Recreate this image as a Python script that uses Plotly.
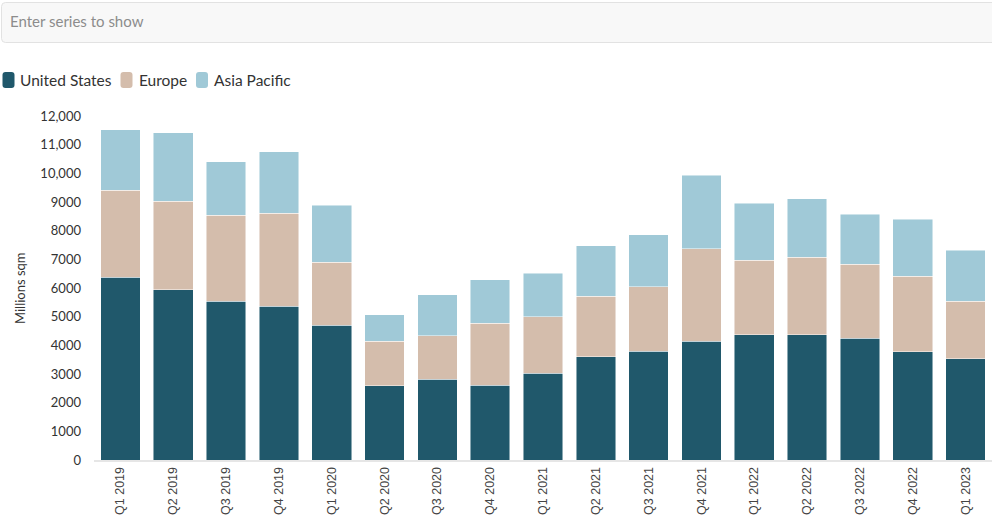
import plotly.graph_objects as go

categories = ["Q1 2019", "Q2 2019", "Q3 2019", "Q4 2019", "Q1 2020", "Q2 2020", "Q3 2020",
              "Q4 2020", "Q1 2021", "Q2 2021", "Q3 2021", "Q4 2021", "Q1 2022", "Q2 2022",
              "Q3 2022", "Q4 2022", "Q1 2023"]
united_states = [6380, 5940, 5540, 5370, 4700, 2590, 2820, 2610, 3030, 3600, 3800, 4150, 4370, 4370, 4240, 3780, 3540]
europe = [3030, 3090, 2990, 3230, 2190, 1550, 1510, 2160, 1970, 2110, 2245, 3220, 2600, 2700, 2580, 2630, 2000]
asia_pacific = [2115, 2390, 1880, 2160, 1990, 930, 1440, 1520, 1520, 1760, 1810, 2560, 1980, 2040, 1760, 1990, 1780]
series_names = ["United States", "Europe", "Asia Pacific"]
series_values = [united_states, europe, asia_pacific]
colors = ["#20586b", "#d4bdac", "#a0c9d7"]

tick_vals = [0, 1000, 2000, 3000, 4000, 5000, 6000, 7000, 8000, 9000, 10000, 11000, 12000]
tick_text = ["0", "1000", "2000", "3000", "4000", "5000", "6000", "7000", "8000", "9000",
             "10,000", "11,000", "12,000"]
y_title = "Millions sqm"
search_placeholder = "Enter series to show"

W, H = 992, 519
ML, MR, MT, MB = 94, 0, 116, 59
PW, PH = W - ML - MR, H - MT - MB

def px(x):
    return (x - ML) / PW

def py(y):
    return (H - MB - y) / PH

fig = go.Figure()
for name, vals, col in zip(series_names, series_values, colors):
    fig.add_trace(go.Bar(
        x=categories, y=vals, name=name,
        marker=dict(color=col, line=dict(color="rgba(255,255,255,0.6)", width=0.8)),
        showlegend=False,
    ))

def rrect(x0, y0, x1, y1, r):
    # pixel path, y negated (pixel sizemode measures upward)
    return (f"M {x0+r},{-y0} L {x1-r},{-y0} Q {x1},{-y0} {x1},{-y0-r} "
            f"L {x1},{-y1+r} Q {x1},{-y1} {x1-r},{-y1} L {x0+r},{-y1} "
            f"Q {x0},{-y1} {x0},{-y1+r} L {x0},{-y0-r} Q {x0},{-y0} {x0+r},{-y0} Z")

shapes = []
# search box
shapes.append(dict(type="path", xsizemode="pixel", ysizemode="pixel",
                   xanchor=px(0), yanchor=py(0), xref="paper", yref="paper",
                   path=rrect(1.5, 2.5, 1000, 42.5, 4),
                   fillcolor="#f8f8f8", line=dict(color="#e2e2e2", width=1), layer="below"))

annotations = [
    dict(text=search_placeholder, x=px(8), y=py(21), xref="paper", yref="paper",
         xanchor="left", yanchor="middle", showarrow=False,
         font=dict(family="Lato", size=15, color="#8c8c8c")),
    dict(text=y_title, x=px(20), y=py(288), xref="paper", yref="paper",
         xanchor="center", yanchor="middle", showarrow=False, textangle=-90,
         font=dict(family="Lato", size=13, color="#333333")),
]

legend_pos = [(2.5, 18), (120.5, 137), (196, 212)]
for (mx, tx), name, col in zip(legend_pos, series_names, colors):
    shapes.append(dict(type="path", xsizemode="pixel", ysizemode="pixel",
                       xanchor=px(0), yanchor=py(0), xref="paper", yref="paper",
                       path=rrect(mx, 72, mx + 12, 88, 3),
                       fillcolor=col, line=dict(width=0)))
    annotations.append(dict(text=name, x=px(tx), y=py(80), xref="paper", yref="paper",
                            xanchor="left", yanchor="middle", showarrow=False,
                            font=dict(family="Lato", size=15.5, color="#333333")))

fig.update_layout(
    width=W, height=H,
    margin=dict(l=ML, r=MR, t=MT, b=MB, autoexpand=False),
    barmode="stack", bargap=0.25,
    plot_bgcolor="white", paper_bgcolor="white",
    font=dict(family="Lato", color="#333333"),
    shapes=shapes, annotations=annotations,
    showlegend=False,
    xaxis=dict(tickangle=-90, showgrid=False, showline=True, linecolor="#e6e6e6", linewidth=2,
               ticks="", tickfont=dict(family="Liberation Sans", size=12.5, color="#444444"),
               fixedrange=True),
    yaxis=dict(range=[0, 12000], tickvals=tick_vals, ticktext=tick_text, showgrid=False,
               zeroline=False, showline=False, ticks="", ticklabelstandoff=12,
               tickfont=dict(family="Lato", size=13, color="#333333"), fixedrange=True),
)

fig.write_html("out.html", config={"displayModeBar": False},
               post_script="document.body.style.margin='0';document.body.style.overflow='hidden';")
